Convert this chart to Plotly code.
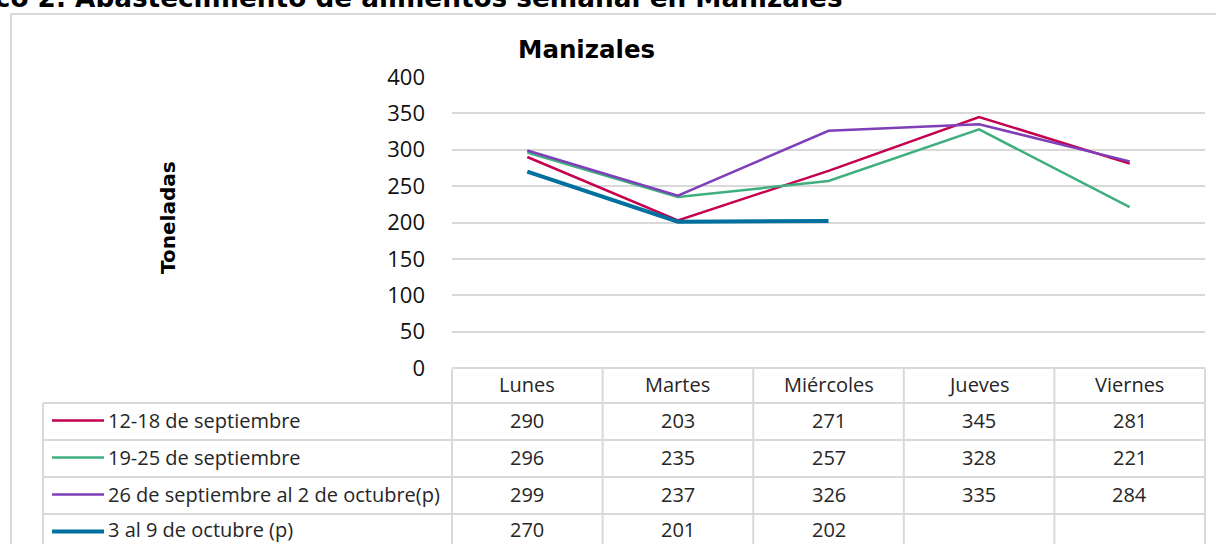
import plotly.graph_objects as go

# ---- data ----
dias = ["Lunes", "Martes", "Miércoles", "Jueves", "Viernes"]
series_names = [
    "12-18 de septiembre",
    "19-25 de septiembre",
    "26 de septiembre al 2 de octubre(p)",
    "3 al 9 de octubre (p)",
]
sep_12_18 = [290, 203, 271, 345, 281]
sep_19_25 = [296, 235, 257, 328, 221]
sep26_oct2 = [299, 237, 326, 335, 284]
oct_3_9 = [270, 201, 202, None, None]
y_ticks = [0, 50, 100, 150, 200, 250, 300, 350, 400]

titulo = "Gráfico 2. Abastecimiento de alimentos semanal en Manizales"
titulo_graf = "Manizales"
titulo_y = "Toneladas"

# ---- style ----
colors = ["#C4004F", "#3FAF7F", "#7E3FB8", "#00709E"]
widths = [2.5, 2.5, 2.5, 4]
W, H = 1216, 544
GRID = "#D9D9D9"
TXT = "#262626"
TFONT = "Open Sans"
TSIZE = 20


def px(x):
    return x / W


def py(y):
    return 1 - y / H


values = [sep_12_18, sep_19_25, sep26_oct2, oct_3_9]

fig = go.Figure()
for name, vals, c, w in zip(series_names, values, colors, widths):
    fig.add_trace(go.Scatter(x=dias, y=vals, name=name, mode="lines",
                             line=dict(color=c, width=w), connectgaps=False,
                             showlegend=False, hoverinfo="skip"))

shapes = []
annotations = []

# outer frame
shapes.append(dict(type="rect", xref="paper", yref="paper", x0=px(11), x1=px(1240),
                   y0=py(580), y1=py(14), line=dict(color=GRID, width=2), layer="below"))

# table rows (pixel boundaries)
row_bounds = [369, 403, 440, 477, 514, 551]
n = len(dias)
for k in range(n + 1):
    shapes.append(dict(type="line", xref="x domain", yref="paper", x0=k / n, x1=k / n,
                       y0=py(row_bounds[-1]), y1=py(row_bounds[0]),
                       line=dict(color=GRID, width=2)))
for yb in row_bounds[1:]:
    shapes.append(dict(type="line", xref="paper", yref="paper", x0=px(43), x1=px(1205),
                       y0=py(yb), y1=py(yb), line=dict(color=GRID, width=2)))
shapes.append(dict(type="line", xref="paper", yref="paper", x0=px(43), x1=px(43),
                   y0=py(row_bounds[-1]), y1=py(row_bounds[1]),
                   line=dict(color=GRID, width=2)))

# header labels
hc = (row_bounds[0] + row_bounds[1]) / 2 - 1.5
for d in dias:
    annotations.append(dict(x=d, y=py(hc), xref="x", yref="paper", text=d,
                            showarrow=False, xanchor="center", yanchor="middle",
                            borderpad=0,
                            font=dict(family=TFONT, size=TSIZE, color=TXT)))

# rows
for i, (name, vals, c, w) in enumerate(zip(series_names, values, colors, widths)):
    rc = (row_bounds[i + 1] + row_bounds[i + 2]) / 2
    tc = rc - 1.5 if i < len(series_names) - 1 else rc - 3
    shapes.append(dict(type="line", xref="paper", yref="paper", x0=px(52), x1=px(104),
                       y0=py(rc - 1), y1=py(rc - 1), line=dict(color=c, width=w)))
    annotations.append(dict(x=px(107), y=py(tc), xref="paper", yref="paper", text=name,
                            showarrow=False, xanchor="left", yanchor="middle",
                            borderpad=0,
                            font=dict(family=TFONT, size=TSIZE, color=TXT)))
    for d, v in zip(dias, vals):
        if v is None:
            continue
        annotations.append(dict(x=d, y=py(tc), xref="x", yref="paper", text=str(v),
                                showarrow=False, xanchor="center", yanchor="middle",
                                borderpad=0,
                                font=dict(family=TFONT, size=TSIZE, color=TXT)))

# titles
annotations.append(dict(x=px(845), y=py(-2), xref="paper", yref="paper",
                        text="<b>" + titulo + "</b>", showarrow=False,
                        xanchor="right", yanchor="middle",
                        font=dict(family="DejaVu Sans", size=26.3, color="#000")))
annotations.append(dict(x=px(586), y=py(49), xref="paper", yref="paper",
                        text="<b>" + titulo_graf + "</b>", showarrow=False,
                        xanchor="center", yanchor="middle",
                        font=dict(family="DejaVu Sans", size=24.5, color="#000")))
annotations.append(dict(x=px(168), y=py(218), xref="paper", yref="paper",
                        text="<b>" + titulo_y + "</b>", showarrow=False, textangle=-90,
                        xanchor="center", yanchor="middle",
                        font=dict(family="DejaVu Sans", size=20, color="#000")))

fig.update_layout(
    width=W, height=H,
    autosize=False,
    margin=dict(l=0, r=0, t=0, b=0, pad=0, autoexpand=False),
    paper_bgcolor="white", plot_bgcolor="white",
    showlegend=False,
    shapes=shapes,
    annotations=annotations,
    xaxis=dict(domain=[px(452), px(1205)], type="category", categoryorder="array",
               categoryarray=dias, range=[-0.5, n - 0.5], showgrid=False,
               showticklabels=False, zeroline=False, showline=False, ticks="",
               automargin=False, fixedrange=True),
    yaxis=dict(domain=[py(368), py(77)], range=[0, 400], tickvals=y_ticks,
               showgrid=True, gridcolor=GRID, gridwidth=2,
               zeroline=True, zerolinecolor=GRID, zerolinewidth=2,
               ticks="", ticklabelstandoff=26, automargin=False, fixedrange=True,
               tickfont=dict(family="Open Sans", size=22, color="#111")),
)

fig.write_html("out.html", config={"displayModeBar": False},
               post_script="document.body.style.margin='0';document.body.style.overflow='hidden';")
